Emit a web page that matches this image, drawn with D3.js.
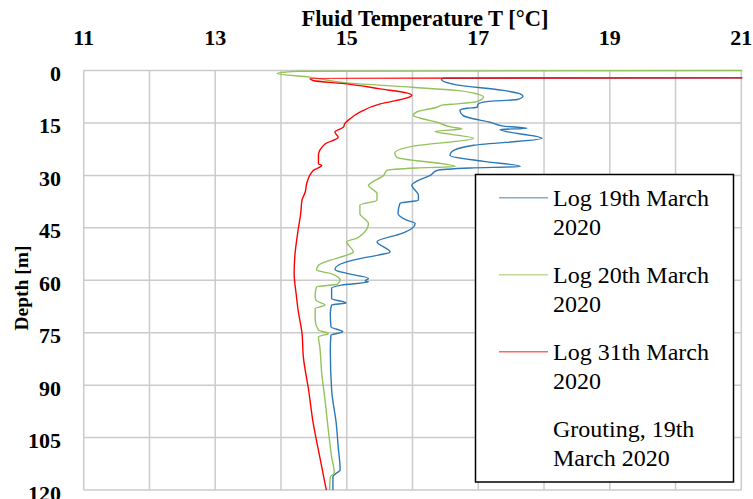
<!DOCTYPE html>
<html>
<head>
<meta charset="utf-8">
<script src="https://cdn.jsdelivr.net/npm/d3@7.9.0/dist/d3.min.js"></script>
<style>
  html, body { margin: 0; padding: 0; background: #fff; }
  svg { display: block; font-family: 'Book Antiqua', 'Palatino Linotype', Palatino, 'Liberation Serif', serif; }
  .tick-label { font-weight: bold; font-size: 22px; fill: #000; }
  .axis-title { font-weight: bold; fill: #000; }
  .legend text { font-size: 24px; fill: #000; }
</style>
</head>
<body>
<div id="chart"></div>
<script>
// Temperature ticks (top axis) and depth ticks (left axis)
const tempTicks = [11, 13, 15, 17, 19, 21];
const depthTicks = [0, 15, 30, 45, 60, 75, 90, 105, 120];

// Series: [temperature °C, depth m]
const log19 = [
  [21.2, 2.1], [16.47, 2.2], [16.44, 2.6], [16.67, 4.1], [17.38, 5.7], [17.64, 6.7], [17.68, 7.35],
  [17.59, 8.3], [17.13, 8.9], [17.0, 9.55], [16.98, 10.5], [16.83, 10.8], [16.72, 11.4],
  [16.77, 12.9], [16.88, 13.6], [17.18, 14.8], [17.38, 15.9], [17.74, 16.5], [17.33, 16.9],
  [17.97, 19.4], [16.93, 21.4], [16.6, 23.2], [16.57, 24.3], [17.08, 26.0], [17.64, 27.45],
  [16.88, 27.9], [16.37, 28.6], [16.27, 30.0], [16.09, 31.4], [15.99, 32.8], [16.09, 35.7],
  [16.09, 37.1], [15.81, 38.0], [15.78, 40.9], [15.91, 42.8], [16.04, 43.75], [15.99, 45.2],
  [15.84, 46.6], [15.46, 49.0], [15.66, 51.9], [15.48, 52.8], [15.2, 53.8], [14.87, 55.7],
  [14.82, 56.9], [15.0, 58.05], [15.33, 59.5], [15.28, 60.2], [15.33, 60.45], [14.92, 61.4],
  [14.77, 62.3], [14.77, 65.2], [14.99, 66.5], [14.77, 67.1], [14.75, 69.5], [14.76, 73.3],
  [14.94, 74.75], [14.76, 75.7], [14.75, 80.0], [14.77, 91.4], [14.84, 100.9], [14.87, 107.6],
  [14.9, 114.3], [14.84, 115.2], [14.79, 116.2], [14.79, 120]
];
const log20 = [
  [21.2, 0], [14.25, 0.2], [13.94, 0.86], [14.44, 1.9], [15.0, 3.55], [16.0, 4.8], [16.67, 5.7],
  [16.98, 6.7], [17.08, 7.6], [16.98, 8.9], [16.67, 9.55], [16.47, 9.85], [16.37, 10.5],
  [16.06, 11.9], [16.01, 12.9], [16.11, 13.6], [16.37, 14.8], [16.6, 16.2], [16.75, 16.7],
  [16.34, 17.4], [16.93, 19.4], [16.01, 21.65], [15.73, 23.6], [15.76, 24.8], [16.65, 27.45],
  [16.06, 27.9], [15.61, 28.6], [15.56, 30.0], [15.35, 32.4], [15.33, 32.8], [15.46, 35.2],
  [15.46, 37.1], [15.2, 38.5], [15.2, 40.9], [15.33, 43.75], [15.25, 46.6], [15.15, 48.0],
  [15.0, 49.0], [15.1, 51.9], [15.0, 52.8], [14.75, 54.25], [14.57, 55.7], [14.54, 57.1],
  [14.75, 58.05], [14.9, 60.0], [14.86, 61.1], [14.54, 61.9], [14.52, 64.3], [14.53, 65.7],
  [14.67, 67.1], [14.52, 68.1], [14.52, 71.4], [14.57, 74.3], [14.72, 75.2], [14.57, 76.2],
  [14.59, 79.0], [14.62, 86.65], [14.67, 94.3], [14.72, 102.9], [14.77, 110.5], [14.81, 115.2],
  [14.75, 116.2], [14.74, 120]
];
const log31 = [
  [21.2, 2.1], [14.44, 2.2], [14.49, 2.86], [15.0, 3.83], [15.51, 5.26], [15.91, 6.41],
  [15.99, 7.12], [15.86, 8.12], [15.51, 9.55], [15.2, 11.9], [15.05, 13.8], [14.97, 15.2],
  [14.95, 16.2], [14.82, 17.6], [14.87, 19.1], [14.67, 21.0], [14.57, 24.3], [14.57, 26.7],
  [14.62, 27.2], [14.49, 28.6], [14.39, 32.4], [14.37, 34.7], [14.32, 37.1], [14.3, 40.9],
  [14.26, 45.7], [14.21, 53.3], [14.2, 58.05], [14.23, 63.8], [14.26, 68.5], [14.32, 75.2],
  [14.34, 81.9], [14.42, 91.4], [14.49, 100.9], [14.59, 110.5], [14.68, 119.1], [14.69, 120]
];
const grouting = []; // listed in the legend, no visible trace

const seriesNames = ['Log 19th March 2020', 'Log 20th March 2020', 'Log 31th March 2020', 'Grouting, 19th March 2020'];
const seriesData = [log19, log20, log31, grouting];
const seriesColors = ['#2b78b6', '#92c25a', '#ff0000', 'none'];
const legendLines = [['Log 19th March', '2020'], ['Log 20th March', '2020'], ['Log 31th March', '2020'], ['Grouting, 19th', 'March 2020']];

const width = 753, height = 499;
const plot = { left: 83.7, right: 741.3, top: 70.5, bottom: 490 };

const svg = d3.select('#chart').append('svg')
  .attr('width', width)
  .attr('height', height);

const x = d3.scaleLinear().domain([11, 21]).range([plot.left, plot.right]);
const y = d3.scaleLinear().domain([0, 120]).range([plot.top, plot.bottom]);

// Gridlines
const grid = svg.append('g').attr('stroke', '#cbcbcb').attr('stroke-width', 1.5);
grid.selectAll('line.v')
  .data(d3.range(11, 22))
  .join('line')
  .attr('class', 'v')
  .attr('x1', d => x(d)).attr('x2', d => x(d))
  .attr('y1', plot.top).attr('y2', plot.bottom);
grid.selectAll('line.h')
  .data(depthTicks)
  .join('line')
  .attr('class', 'h')
  .attr('x1', plot.left).attr('x2', plot.right)
  .attr('y1', d => y(d)).attr('y2', d => y(d));

// Tick labels
svg.append('g').selectAll('text')
  .data(tempTicks)
  .join('text')
  .attr('class', 'tick-label')
  .attr('x', d => x(d))
  .attr('y', 44.5)
  .attr('text-anchor', 'middle')
  .text(d => d);

svg.append('g').selectAll('text')
  .data(depthTicks)
  .join('text')
  .attr('class', 'tick-label')
  .attr('x', 61)
  .attr('y', d => y(d) + 10.5)
  .attr('text-anchor', 'end')
  .text(d => d);

// Axis titles
svg.append('text')
  .attr('class', 'axis-title')
  .attr('x', 425).attr('y', 26)
  .attr('text-anchor', 'middle')
  .style('font-size', '22.5px')
  .text('Fluid Temperature T [°C]');

svg.append('text')
  .attr('class', 'axis-title')
  .attr('transform', `translate(28, 288) rotate(-90)`)
  .attr('text-anchor', 'middle')
  .style('font-size', '19.5px')
  .text('Depth [m]');

// Lines
svg.append('clipPath').attr('id', 'clip')
  .append('rect')
  .attr('x', plot.left - 2).attr('y', plot.top - 2)
  .attr('width', plot.right - plot.left + 3)
  .attr('height', plot.bottom - plot.top + 4);

// depth only ever increases along each log, so a monotone-in-y curve keeps the peaks in place
const line = d3.line()
  .curve(d3.curveMonotoneY)
  .x(d => x(d[0]))
  .y(d => y(d[1]));

svg.append('g').attr('clip-path', 'url(#clip)')
  .selectAll('path')
  .data(seriesData.map((d, i) => ({ values: d, color: seriesColors[i] })).filter(s => s.values.length))
  .join('path')
  .attr('d', s => line(s.values))
  .attr('fill', 'none')
  .attr('stroke', s => s.color)
  .attr('stroke-width', 1.4)
  .attr('stroke-linejoin', 'round');

// Legend
const legend = svg.append('g').attr('class', 'legend');
legend.append('rect')
  .attr('x', 475.5).attr('y', 174.5)
  .attr('width', 258).attr('height', 307.5)
  .attr('fill', '#fff')
  .attr('stroke', '#000')
  .attr('stroke-width', 1.5);

const items = legend.selectAll('g.item')
  .data(seriesNames)
  .join('g')
  .attr('class', 'item')
  .attr('transform', (d, i) => `translate(0, ${i * 77})`);

items.append('line')
  .attr('x1', 499).attr('x2', 548)
  .attr('y1', 197.7).attr('y2', 197.7)
  .attr('stroke', (d, i) => seriesColors[i])
  .attr('stroke-opacity', 0.6)
  .attr('stroke-width', 1.5);

items.append('text')
  .attr('x', 553).attr('y', 205.7)
  .text((d, i) => legendLines[i][0]);
items.append('text')
  .attr('x', 553).attr('y', 235)
  .text((d, i) => legendLines[i][1]);
</script>
</body>
</html>
